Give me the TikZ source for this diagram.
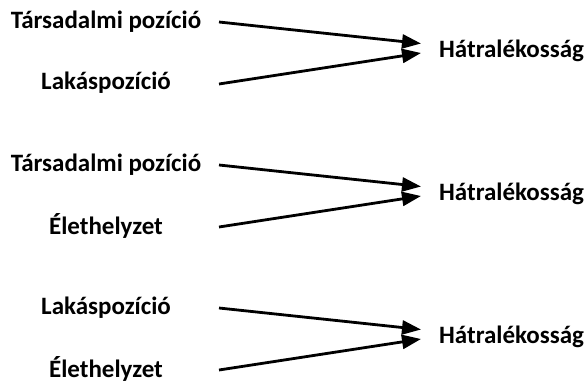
\documentclass[tikz,border=0pt]{standalone}
\usepackage{fontspec}
\setmainfont{Carlito}
\usetikzlibrary{arrows.meta}

\begin{document}
\begin{tikzpicture}[x=1pt,y=-1pt,
    lbl/.style={font=\fontsize{25}{28}\selectfont\bfseries, inner sep=0pt},
    arr/.style={-{Triangle[length=19pt,width=14pt]}, line width=2.8pt}]

% page frame
\useasboundingbox (0,0) rectangle (586,383);

% three groups of two causes and one effect
\foreach \i/\top/\bot in {0/Társadalmi pozíció/Lakáspozíció,
                         1/Társadalmi pozíció/Élethelyzet,
                         2/Lakáspozíció/Élethelyzet}
{
  \begin{scope}[yshift=-143*\i]
    \node[lbl] (top\i) at (106,22) {\top};
    \node[lbl] (bot\i) at (106,82.5) {\bot};
    \node[lbl, anchor=west] (hat\i) at (439,51) {Hátralékosság};

    % arrow ends
    \coordinate (s\i a) at (219,22);
    \coordinate (s\i b) at (219,84);
    \coordinate (e\i a) at (421,43.5);
    \coordinate (e\i b) at (421,53);

    \draw[arr] (s\i a) -- (e\i a);
    \draw[arr] (s\i b) -- (e\i b);
  \end{scope}
}

\end{tikzpicture}
\end{document}
